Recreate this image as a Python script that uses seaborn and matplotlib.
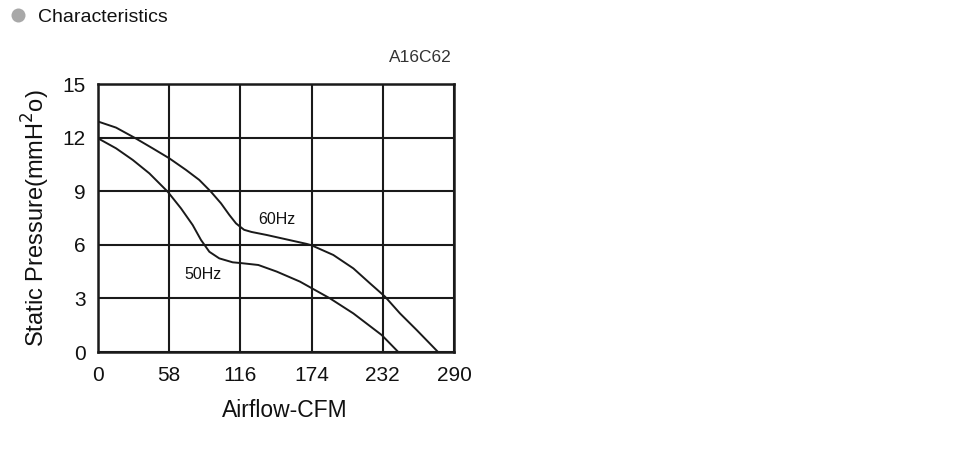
import numpy as np
import seaborn as sns
import matplotlib.pyplot as plt
from matplotlib.patches import Ellipse

# values
cfm_60 = [0, 14.7, 29.6, 44.5, 58.1, 71.7, 82.5, 92, 100.2, 107, 112.4, 116, 119, 125,
          137.4, 153.7, 170, 174, 191.7, 208, 221.6, 233.8, 246, 259.6, 277]
mmh2o_60 = [12.9, 12.56, 12.0, 11.4, 10.84, 10.19, 9.63, 8.97, 8.32, 7.67, 7.2, 7.0, 6.84, 6.72,
            6.55, 6.3, 6.05, 5.97, 5.43, 4.68, 3.84, 3.1, 2.16, 1.23, 0]
cfm_50 = [0, 14.7, 28.3, 41.8, 56.8, 67.6, 77.1, 83.9, 90.7, 98.8, 109.7, 116, 130.6, 145.6,
          164.5, 189, 208, 231.1, 244.6]
mmh2o_50 = [11.96, 11.4, 10.75, 10.0, 8.97, 8.04, 7.11, 6.27, 5.61, 5.24, 5.02, 4.98, 4.87, 4.5,
            3.94, 3.0, 2.16, 0.95, 0]

x_ticks = [0, 58, 116, 174, 232, 290]
y_ticks = [0, 3, 6, 9, 12, 15]
model = 'A16C62'

sns.set_style('white')
plt.rcParams['font.family'] = ['Liberation Sans', 'DejaVu Sans']

fig = plt.figure(figsize=(9.72, 4.55), dpi=100)
ax = fig.add_axes([98 / 972, 1 - 352 / 455, 356 / 972, 268 / 455])

for xs, ys in [(cfm_60, mmh2o_60), (cfm_50, mmh2o_50)]:
  sns.lineplot(x=xs, y=ys, sort=False, color='#1a1a1a', lw=1.4, ax=ax)
for ln in ax.lines:
  ln.set_solid_joinstyle('round')

ax.set_xlim(0, 290)
ax.set_ylim(0, 15)
ax.set_xticks(x_ticks)
ax.set_yticks(y_ticks)
ax.grid(True, color='#1a1a1a', lw=1.5)
ax.tick_params(length=0, labelsize=15, colors='#111111')
ax.tick_params(axis='y', pad=9)
ax.tick_params(axis='x', pad=10)
for s in ax.spines.values():
  s.set_color('#1a1a1a')
  s.set_linewidth(1.8)

ax.set_xlabel('Airflow-CFM', fontsize=16.5, color='#111111')
ax.xaxis.set_label_coords(0.525, -0.175)
ax.set_ylabel('Static Pressure(mmH$^2$o)', fontsize=17, color='#111111')
ax.yaxis.set_label_coords(-0.13, 0.5)

ax.text(145.8, 7.44, '60Hz', fontsize=11.5, ha='center', va='center', color='#111111')
ax.text(85.8, 4.31, '50Hz', fontsize=11.5, ha='center', va='center', color='#111111')

fig.text(452 / 972, 1 - 57 / 455, model, fontsize=12.5, ha='right', va='center', color='#333333')
fig.text(38 / 972, 1 - 17 / 455, 'Characteristics', fontsize=14, ha='left', va='center', color='#111111')
fig.patches.append(Ellipse((18.5 / 972, 1 - 15.5 / 455), 14 / 972, 14 / 455, transform=fig.transFigure,
                           facecolor='#a8a8a8', edgecolor='none'))

fig.savefig('out.png', dpi=100)
